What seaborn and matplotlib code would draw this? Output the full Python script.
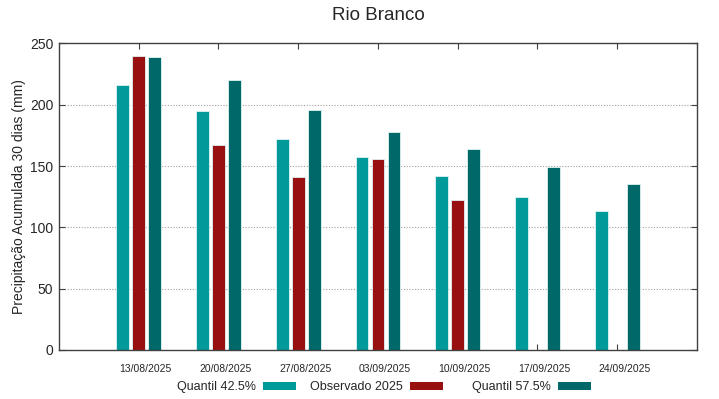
import numpy as np
import pandas as pd
import seaborn as sns
import matplotlib
matplotlib.use("Agg")
import matplotlib.pyplot as plt
import matplotlib.transforms as mtransforms
from matplotlib.patches import Patch

datas = ["13/08/2025", "20/08/2025", "27/08/2025", "03/09/2025",
         "10/09/2025", "17/09/2025", "24/09/2025"]
q425 = [216, 195, 172, 157, 142, 125, 113]
obs = [240, 167, 141, 156, 122, np.nan, np.nan]
q575 = [239, 220, 196, 178, 164, 149, 135]

series = ["Quantil 42.5%", "Observado 2025", "Quantil 57.5%"]
cores = ["#009a9a", "#991010", "#006868"]

df = pd.DataFrame({
    "data": datas * 3,
    "serie": [series[0]] * 7 + [series[1]] * 7 + [series[2]] * 7,
    "valor": q425 + obs + q575,
}).dropna()

sns.set_style("white")
plt.rcParams["font.family"] = ["Liberation Sans", "DejaVu Sans"]

fig = plt.figure(figsize=(7.19, 3.99), dpi=100)
ax = fig.add_axes([0.082, 0.123, 0.8874, 0.768])

sns.barplot(data=df, x="data", y="valor", hue="serie", order=datas,
            hue_order=series, palette=cores, saturation=1, width=0.6,
            gap=0.2, edgecolor="#dff3f3", linewidth=0.6, errorbar=None,
            legend=False, ax=ax)

ax.set_xlim(-1, 7)
ax.set_ylim(0, 250)
ax.set_yticks(range(0, 251, 50))
for y in range(50, 250, 50):
    ax.axhline(y, color="#a0a0a0", lw=0.8, ls=(0, (1, 1.5)), zorder=0)

ax.set_xlabel("")
ax.set_ylabel("Precipitação Acumulada 30 dias (mm)", fontsize=10, labelpad=3)
fig.text(378 / 719, 1 - 16 / 399, "Rio Branco", fontsize=13.5,
         ha="center", va="center")

for s in ax.spines.values():
    s.set_color("#404040")
    s.set_linewidth(1)
    s.set_visible(True)
ax.tick_params(axis="x", direction="in", top=True, bottom=True, length=4,
               labelsize=7.5, color="#404040", pad=10)
ax.tick_params(axis="y", direction="in", left=True, right=True, length=4,
               labelsize=10, color="#404040", pad=4)

# no gnuplot os rotulos ficam um pouco deslocados para a direita
desloc = mtransforms.ScaledTranslation(7 / 100, 0, fig.dpi_scale_trans)
for lab in ax.get_xticklabels():
    lab.set_transform(lab.get_transform() + desloc)

# legenda estilo gnuplot: texto e depois a amostra
inicio = [177, 310, 472]
for nome, cor, x0 in zip(series, cores, inicio):
    leg = fig.legend([Patch(facecolor=cor, edgecolor="none")], [nome],
                     loc="center left", bbox_to_anchor=(x0 / 719, 0.029),
                     frameon=False, markerfirst=False, fontsize=9,
                     handlelength=2.65, handleheight=0.55, handletextpad=0.55,
                     borderpad=0, borderaxespad=0)

fig.savefig("out.png", dpi=100)
